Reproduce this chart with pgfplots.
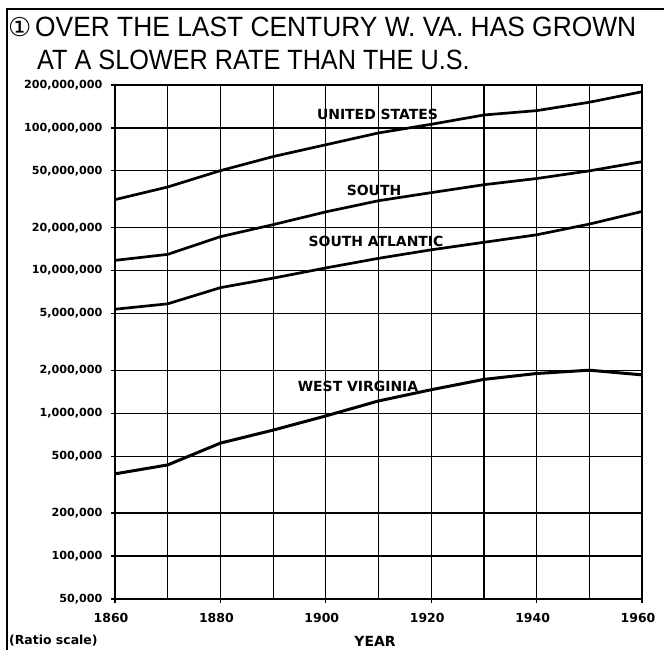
\documentclass[border=0pt]{standalone}
\usepackage{pgfplots}
\pgfplotsset{compat=1.18}
\usepackage{fontspec}
\setmainfont{DejaVu Sans}
\newfontfamily\titlefont{Liberation Sans}
\newfontfamily\dejavu{DejaVu Sans}
\begin{document}
\begin{tikzpicture}[x=1bp,y=1bp]
\path[use as bounding box] (0,0) rectangle (664,656);
\draw[line width=1.5bp] (7,6) -- (7,647) -- (664,647);
\begin{axis}[
  at={(115bp,57bp)}, anchor=south west,
  scale only axis, width=527bp, height=514bp,
  xmin=1860, xmax=1960, ymode=log, ymin=5e4, ymax=2e8,
  xtick={1860,1880,1900,1920,1940,1960},
  xticklabels={1860,1880,1900,1920,1940,1960},
  minor xtick={1870,1890,1910,1930,1950},
  ytick={5e4,1e5,2e5,5e5,1e6,2e6,5e6,1e7,2e7,5e7,1e8,2e8},
  yticklabels={{50,000},{100,000},{200,000},{500,000},{1,000,000},{2,000,000},{5,000,000},{10,000,000},{20,000,000},{50,000,000},{100,000,000},{\raisebox{-7bp}{200,000,000}}},
  minor ytick={},
  xmajorgrids, xminorgrids, ymajorgrids,
  major grid style={black, line width=1.2bp},
  minor grid style={black, line width=1.2bp},
  axis line style={black, line width=1.4bp},
  tick style={black, line width=1.2bp},
  tick align=outside, major tick length=4bp, minor tick length=0pt,
  tick pos=left,
  yticklabel style={font=\fontsize{11.2}{12}\selectfont\bfseries, xshift=-5bp},
  xticklabel style={font=\fontsize{12.5}{13}\selectfont\bfseries, xshift=-4bp, yshift=-7bp},
]
\addplot[black, line width=2.7bp] coordinates {
(1860,31443321) (1870,38558371) (1880,50189209) (1890,62979766) (1900,76212168)
(1910,92228496) (1920,106021537) (1930,123202624) (1940,132164569) (1950,151325798) (1960,179323175)};
\addplot[black, line width=2.7bp] coordinates {
(1860,11800000) (1870,13000000) (1880,17300000) (1890,21000000) (1900,25800000)
(1910,30900000) (1920,35200000) (1930,40000000) (1940,44200000) (1950,50000000) (1960,58000000)};
\addplot[black, line width=2.7bp] coordinates {
(1860,5364703) (1870,5853610) (1880,7597197) (1890,8857922) (1900,10443480)
(1910,12194895) (1920,13990272) (1930,15793589) (1940,17823151) (1950,21182335) (1960,25971732)};
\addplot[black, line width=3bp] coordinates {
(1860,376688) (1870,435000) (1880,618457) (1890,762794) (1900,958800)
(1910,1221119) (1920,1463701) (1930,1729205) (1940,1901974) (1950,2005552) (1960,1860421)};
\end{axis}
\node[anchor=base west, inner sep=0] at (8,619) {\dejavu\fontsize{26}{26}\selectfont ①};
\node[anchor=base west, inner sep=0] at (35,619) {\titlefont\fontsize{28}{28}\selectfont\scalebox{0.945}[1]{OVER THE LAST CENTURY W. VA. HAS GROWN}};
\node[anchor=base west, inner sep=0] at (37,586) {\titlefont\fontsize{28}{28}\selectfont\scalebox{0.905}[1]{AT A SLOWER RATE THAN THE U.S.}};
\begin{scope}[every node/.style={inner sep=0, font=\fontsize{14}{15}\selectfont\bfseries}]
\node at (377.5,542) {UNITED STATES};
\node at (374,466) {SOUTH};
\node at (376,415) {SOUTH ATLANTIC};
\node at (358,270) {WEST VIRGINIA};
\node at (375,15) {YEAR};
\end{scope}
\node[anchor=west, inner sep=0, font=\fontsize{12.5}{13}\selectfont\bfseries] at (9,15) {(Ratio scale)};
\end{tikzpicture}
\end{document}
